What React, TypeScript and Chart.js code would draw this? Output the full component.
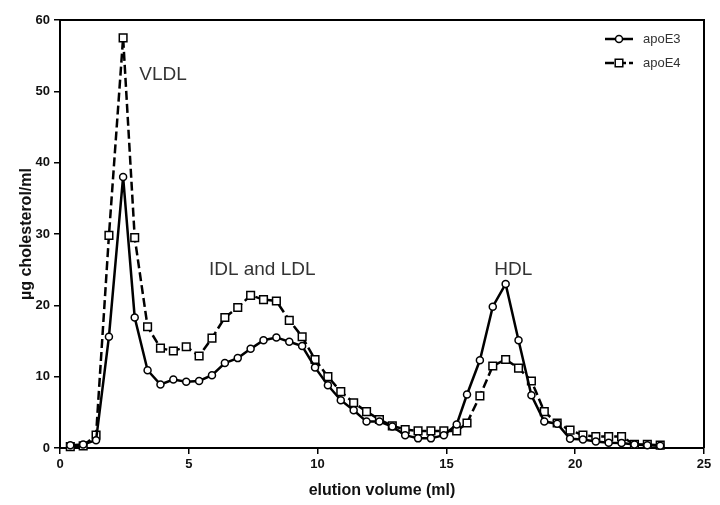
import React, { useEffect, useRef } from "react";
import { Chart, registerables } from "chart.js";

Chart.register(...registerables);

// elution volume (ml) of each fraction
const volumes = [
  0.4, 0.9, 1.4, 1.9, 2.45, 2.9, 3.4, 3.9, 4.4, 4.9,
  5.4, 5.9, 6.4, 6.9, 7.4, 7.9, 8.4, 8.9, 9.4, 9.9,
  10.4, 10.9, 11.4, 11.9, 12.4, 12.9, 13.4, 13.9, 14.4, 14.9,
  15.4, 15.8, 16.3, 16.8, 17.3, 17.8, 18.3, 18.8, 19.3, 19.8,
  20.3, 20.8, 21.3, 21.8, 22.3, 22.8, 23.3,
];

// µg cholesterol/ml
const apoE3 = [
  0.4, 0.5, 1.1, 15.6, 38.0, 18.3, 10.9, 8.9, 9.6, 9.3,
  9.4, 10.2, 11.9, 12.6, 13.9, 15.1, 15.5, 14.9, 14.3, 11.3,
  8.8, 6.7, 5.3, 3.7, 3.7, 3.0, 1.8, 1.35, 1.35, 1.8,
  3.3, 7.5, 12.3, 19.8, 23.0, 15.1, 7.4, 3.7, 3.4, 1.3,
  1.2, 0.9, 0.75, 0.7, 0.5, 0.4, 0.3,
];

const apoE4 = [
  0.2, 0.3, 1.8, 29.8, 57.5, 29.5, 17.0, 14.0, 13.6, 14.2,
  12.9, 15.4, 18.3, 19.7, 21.4, 20.8, 20.6, 17.9, 15.6, 12.4,
  10.0, 7.9, 6.35, 5.1, 4.0, 3.1, 2.6, 2.4, 2.4, 2.4,
  2.4, 3.5, 7.3, 11.5, 12.4, 11.2, 9.4, 5.1, 3.5, 2.5,
  1.8, 1.6, 1.6, 1.6, 0.5, 0.5, 0.4,
];

const seriesNames = ["apoE3", "apoE4"];
const xTicks = [0, 5, 10, 15, 20, 25];
const yTicks = [0, 10, 20, 30, 40, 50, 60];

const peakLabels = ["VLDL", "IDL and LDL", "HDL"];
const peakLabelX = [4.0, 7.85, 17.6];
const peakLabelY = [52.3, 25.0, 25.0];

const framePlugin = {
  id: "frameAndNotes",
  afterDraw(chart: any) {
    const { ctx, chartArea, scales } = chart;
    ctx.save();
    // top and right frame lines
    ctx.strokeStyle = "#000";
    ctx.lineWidth = 2;
    ctx.beginPath();
    ctx.moveTo(chartArea.left, chartArea.top);
    ctx.lineTo(chartArea.right, chartArea.top);
    ctx.lineTo(chartArea.right, chartArea.bottom);
    ctx.stroke();

    // peak annotations
    ctx.fillStyle = "#333";
    ctx.font = "19px 'Liberation Sans', Arial, sans-serif";
    ctx.textAlign = "center";
    ctx.textBaseline = "middle";
    peakLabels.forEach((t, i) => {
      ctx.fillText(t, scales.x.getPixelForValue(peakLabelX[i]), scales.y.getPixelForValue(peakLabelY[i]));
    });

    // legend
    const lx0 = chartArea.right - 99;
    const lx1 = chartArea.right - 71;
    const rows = [chartArea.top + 19, chartArea.top + 43];
    rows.forEach((ry, i) => {
      ctx.strokeStyle = "#000";
      ctx.lineWidth = 2.5;
      ctx.setLineDash(i === 0 ? [] : [9, 3]);
      ctx.beginPath();
      ctx.moveTo(lx0, ry);
      ctx.lineTo(lx1, ry);
      ctx.stroke();
      ctx.setLineDash([]);
      ctx.lineWidth = 1.5;
      ctx.fillStyle = "#fff";
      const cx = (lx0 + lx1) / 2;
      ctx.beginPath();
      if (i === 0) {
        ctx.arc(cx, ry, 3.5, 0, Math.PI * 2);
      } else {
        ctx.rect(cx - 3.8, ry - 3.8, 7.6, 7.6);
      }
      ctx.fill();
      ctx.stroke();
      ctx.fillStyle = "#333";
      ctx.font = "13px 'Liberation Sans', Arial, sans-serif";
      ctx.textAlign = "left";
      ctx.textBaseline = "middle";
      ctx.fillText(seriesNames[i], chartArea.right - 61, ry);
    });
    ctx.restore();
  },
};

export default function App() {
  const canvasRef = useRef<HTMLCanvasElement>(null);

  useEffect(() => {
    document.body.style.margin = "0";
    const canvas = canvasRef.current;
    if (!canvas) return;
    const tickFont = { family: "'Liberation Sans', Arial, sans-serif", size: 13, weight: "bold" as const };
    const titleFont = { family: "'Liberation Sans', Arial, sans-serif", size: 16, weight: "bold" as const };
    const chart = new Chart(canvas, {
      type: "line",
      data: {
        datasets: [
          {
            label: seriesNames[0],
            data: volumes.map((v, i) => ({ x: v, y: apoE3[i] })),
            borderColor: "#000",
            borderWidth: 2.5,
            pointStyle: "circle",
            pointRadius: 3.5,
            pointBorderWidth: 1.5,
            pointBackgroundColor: "#fff",
            pointBorderColor: "#000",
            tension: 0,
            clip: false as any,
          },
          {
            label: seriesNames[1],
            data: volumes.map((v, i) => ({ x: v, y: apoE4[i] })),
            borderColor: "#000",
            borderWidth: 2.5,
            borderDash: [9, 4],
            pointStyle: "rect",
            pointRadius: 5.4,
            pointBorderWidth: 1.5,
            pointBackgroundColor: "#fff",
            pointBorderColor: "#000",
            tension: 0,
            clip: false as any,
          },
        ],
      },
      options: {
        animation: false,
        responsive: false,
        layout: { padding: { top: 20, right: 16, left: 0, bottom: 0 } },
        plugins: { legend: { display: false }, tooltip: { enabled: false } },
        scales: {
          x: {
            type: "linear",
            min: 0,
            max: 25,
            afterBuildTicks: (s: any) => { s.ticks = xTicks.map((v) => ({ value: v })); },
            afterFit: (s: any) => { s.height = 57; },
            ticks: { font: tickFont, color: "#111", padding: 3, maxRotation: 0 },
            grid: { display: true, drawOnChartArea: false, drawTicks: true, tickLength: 6, color: "#000", lineWidth: 1.5 },
            border: { display: true, color: "#000", width: 2 },
            title: { display: true, text: "elution volume (ml)", font: titleFont, color: "#111", padding: { top: 0, bottom: 5 } },
          },
          y: {
            type: "linear",
            min: 0,
            max: 60,
            afterBuildTicks: (s: any) => { s.ticks = yTicks.map((v) => ({ value: v })); },
            afterFit: (s: any) => { s.width = 60; },
            ticks: { font: tickFont, color: "#111", padding: 4 },
            grid: { display: true, drawOnChartArea: false, drawTicks: true, tickLength: 6, color: "#000", lineWidth: 1.5 },
            border: { display: true, color: "#000", width: 2 },
            title: { display: true, text: "µg cholesterol/ml", font: titleFont, color: "#111", padding: { top: 17, bottom: 0 } },
          },
        },
      },
      plugins: [framePlugin],
    });
    return () => chart.destroy();
  }, []);

  return (
    <div style={{ width: 720, height: 505, background: "#fff" }}>
      <canvas ref={canvasRef} width={720} height={505} style={{ display: "block", width: 720, height: 505 }} />
    </div>
  );
}
